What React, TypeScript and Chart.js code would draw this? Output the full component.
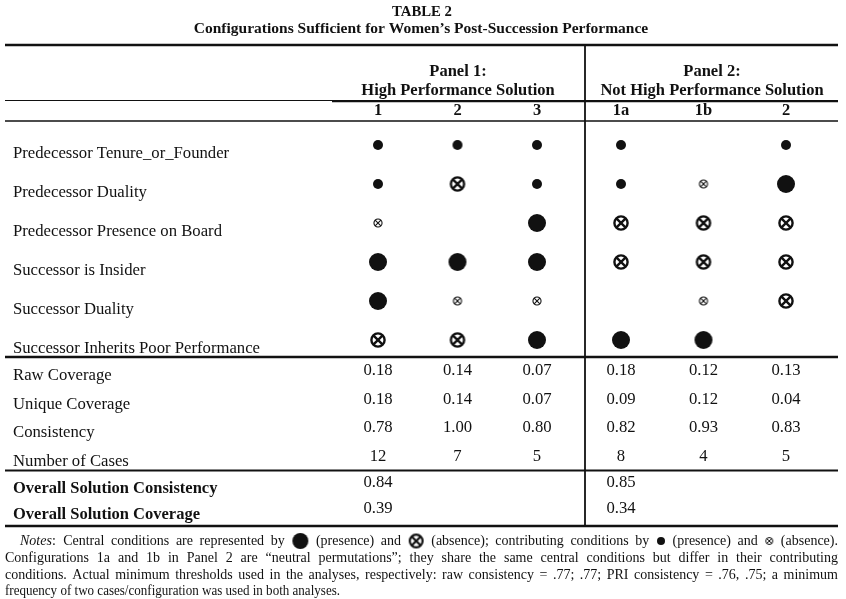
import React, { useEffect, useRef } from 'react';
import { Chart, registerables } from 'chart.js';

Chart.register(...registerables);

// ---------------- data ----------------
const tableNumber = 'TABLE 2';
const tableTitle = 'Configurations Sufficient for Women\u2019s Post-Succession Performance';
const panelTitles = ['Panel 1:', 'Panel 2:'];
const panelSubtitles = ['High Performance Solution', 'Not High Performance Solution'];
const panel1Columns = ['1', '2', '3'];
const panel2Columns = ['1a', '1b', '2'];
const conditions = [
  'Predecessor Tenure_or_Founder',
  'Predecessor Duality',
  'Predecessor Presence on Board',
  'Successor is Insider',
  'Successor Duality',
  'Successor Inherits Poor Performance',
];
// P = central presence, A = central absence, p = contributing presence, a = contributing absence, '' = blank
const tenureMarks = ['p', 'p', 'p', 'p', '', 'p'];
const predecessorDualityMarks = ['p', 'A', 'p', 'p', 'a', 'P'];
const boardPresenceMarks = ['a', '', 'P', 'A', 'A', 'A'];
const insiderMarks = ['P', 'P', 'P', 'A', 'A', 'A'];
const successorDualityMarks = ['P', 'a', 'a', '', 'a', 'A'];
const poorPerformanceMarks = ['A', 'A', 'P', 'P', 'P', ''];
const statLabels = ['Raw Coverage', 'Unique Coverage', 'Consistency', 'Number of Cases'];
const rawCoverage = [0.18, 0.14, 0.07, 0.18, 0.12, 0.13];
const uniqueCoverage = [0.18, 0.14, 0.07, 0.09, 0.12, 0.04];
const consistency = [0.78, 1.0, 0.8, 0.82, 0.93, 0.83];
const numberOfCases = [12, 7, 5, 8, 4, 5];
const overallLabels = ['Overall Solution Consistency', 'Overall Solution Coverage'];
const overallConsistency = [0.84, 0.85];
const overallCoverage = [0.39, 0.34];
const notesLine1 = '*Notes: Central conditions are represented by {P} (presence) and {A} (absence); contributing conditions by {p} (presence) and {a} (absence).';
const notesLine2 = 'Configurations 1a and 1b in Panel 2 are \u201Cneutral permutations\u201D; they share the same central conditions but differ in their contributing';
const notesLine3 = 'conditions. Actual minimum thresholds used in the analyses, respectively: raw consistency = .77; .77; PRI consistency = .76, .75; a minimum';
const notesLine4 = 'frequency of two cases/configuration was used in both analyses.';

// ---------------- layout ----------------
const W = 846;
const H = 599;
const INK = '#111111';
const LEFT = 5;
const RIGHT = 838;
const DIVIDER_X = 585;
const P1_X0 = 378, P1_DX = 79.5;
const P2_X0 = 621, P2_DX = 82.5;
const MARK_Y0 = 145, MARK_DY = 39;
const STAT_Y0 = 371, STAT_DY = 28.5;
const OVR_Y0 = 483, OVR_DY = 26;
const SERIF = '"Liberation Serif", "Times New Roman", serif';

function range(p0: number, dp: number, size: number) {
  const min = -p0 / dp;
  return { min, max: min + size / dp };
}

function makeSymbol(kind: string, r: number, lw: number) {
  const c = document.createElement('canvas');
  const size = Math.ceil(2 * r + 2);
  c.width = size;
  c.height = size;
  const g = c.getContext('2d')!;
  const cx = size / 2;
  g.fillStyle = INK;
  g.strokeStyle = INK;
  if (kind === 'filled') {
    g.beginPath();
    g.arc(cx, cx, r, 0, Math.PI * 2);
    g.fill();
  } else {
    const rr = r - lw / 2;
    g.lineWidth = lw;
    g.beginPath();
    g.arc(cx, cx, rr, 0, Math.PI * 2);
    g.stroke();
    const d = rr * Math.SQRT1_2;
    g.beginPath();
    g.moveTo(cx - d, cx - d);
    g.lineTo(cx + d, cx + d);
    g.moveTo(cx + d, cx - d);
    g.lineTo(cx - d, cx + d);
    g.stroke();
  }
  return c;
}

export default function App() {
  const ref = useRef<HTMLCanvasElement>(null);

  useEffect(() => {
    const canvas = ref.current;
    if (!canvas) return;

    const symbols: Record<string, HTMLCanvasElement> = {
      P: makeSymbol('filled', 9, 0),
      p: makeSymbol('filled', 5, 0),
      A: makeSymbol('cross', 7.8, 2.4),
      a: makeSymbol('cross', 4.6, 1.1),
    };
    const noteSymbols: Record<string, HTMLCanvasElement> = {
      P: makeSymbol('filled', 8, 0),
      p: makeSymbol('filled', 4, 0),
      A: makeSymbol('cross', 7.5, 2.2),
      a: makeSymbol('cross', 4, 1),
    };
    const radii: Record<string, number> = { P: 9, p: 5, A: 7.8, a: 4.6 };

    const markRows = [tenureMarks, predecessorDualityMarks, boardPresenceMarks, insiderMarks, successorDualityMarks, poorPerformanceMarks];
    const groups: Record<string, { x: number; y: number }[]> = {};
    markRows.forEach((row, r) => {
      row.forEach((code, c) => {
        if (!code) return;
        const panel = c < panel1Columns.length ? 0 : 1;
        const key = panel + code;
        (groups[key] = groups[key] || []).push({ x: panel === 0 ? c : c - panel1Columns.length, y: r });
      });
    });
    const datasets = Object.keys(groups).map((key) => {
      const panel = key[0];
      const code = key.slice(1);
      return {
        label: key,
        data: groups[key],
        xAxisID: panel === '0' ? 'x' : 'x2',
        yAxisID: 'yMarks',
        pointStyle: symbols[code],
        pointRadius: radii[code],
        pointHoverRadius: radii[code],
        showLine: false,
      };
    });

    const allColumns = [...panel1Columns, ...panel2Columns];
    const statRows = [rawCoverage, uniqueCoverage, consistency, numberOfCases];
    const overallRows = [overallConsistency, overallCoverage];

    const tablePlugin = {
      id: 'tableText',
      afterDraw(chart: any) {
        const ctx: CanvasRenderingContext2D = chart.ctx;
        const sx = chart.scales.x;
        const sx2 = chart.scales.x2;
        const yM = chart.scales.yMarks;
        const yS = chart.scales.yStats;
        const yO = chart.scales.yOverall;
        const colX = (j: number) => (j < panel1Columns.length ? sx.getPixelForValue(j) : sx2.getPixelForValue(j - panel1Columns.length));

        ctx.save();
        ctx.fillStyle = INK;
        ctx.strokeStyle = INK;
        ctx.textBaseline = 'middle';

        const text = (s: string, x: number, y: number, font: string, align: CanvasTextAlign, maxW?: number) => {
          ctx.font = font;
          ctx.textAlign = align;
          if (maxW) ctx.fillText(s, x, y, maxW);
          else ctx.fillText(s, x, y);
        };
        const hline = (y: number, x0: number, x1: number, lw: number) => {
          ctx.lineWidth = lw;
          ctx.beginPath();
          ctx.moveTo(x0, y);
          ctx.lineTo(x1, y);
          ctx.stroke();
        };

        // titles
        text(tableNumber, 422, 12, `bold 15.5px ${SERIF}`, 'center', 60);
        text(tableTitle, 421, 29, `bold 15.5px ${SERIF}`, 'center', 467);

        // rules
        hline(45, LEFT, RIGHT, 2.6);
        hline(100.5, LEFT, RIGHT, 1.2);
        hline(101.5, 332, RIGHT, 1.4);
        hline(121, LEFT, RIGHT, 1.3);
        hline(357, LEFT, RIGHT, 2.6);
        hline(470.5, LEFT, RIGHT, 1.8);
        hline(526, LEFT, RIGHT, 2.6);
        ctx.lineWidth = 1.8;
        ctx.beginPath();
        ctx.moveTo(DIVIDER_X, 44);
        ctx.lineTo(DIVIDER_X, 527);
        ctx.stroke();

        // panel headers
        text(panelTitles[0], 458, 72, `bold 16.5px ${SERIF}`, 'center');
        text(panelTitles[1], 712, 72, `bold 16.5px ${SERIF}`, 'center');
        text(panelSubtitles[0], 458, 91, `bold 16.5px ${SERIF}`, 'center', 194);
        text(panelSubtitles[1], 712, 91, `bold 16.5px ${SERIF}`, 'center', 225);
        allColumns.forEach((c, j) => text(c, colX(j), 111, `bold 16.5px ${SERIF}`, 'center'));

        // condition labels
        conditions.forEach((c, i) => text(c, 13, yM.getPixelForValue(i) + 8.5, `16.7px ${SERIF}`, 'left'));

        // stats
        statLabels.forEach((l, i) => {
          const y = yS.getPixelForValue(i);
          text(l, 13, y + 5, `16.7px ${SERIF}`, 'left');
          statRows[i].forEach((v, j) => {
            const s = i === 3 ? String(v) : v.toFixed(2);
            text(s, colX(j), y, `16.7px ${SERIF}`, 'center');
          });
        });
        overallLabels.forEach((l, i) => {
          const y = yO.getPixelForValue(i);
          text(l, 13, y + 6, `bold 16.5px ${SERIF}`, 'left');
          overallRows[i].forEach((v, k) => text(v.toFixed(2), colX(k * panel1Columns.length), y, `16.7px ${SERIF}`, 'center'));
        });

        // notes
        const noteFont = `14px ${SERIF}`;
        const drawLine = (line: string, x0: number, x1: number, y: number, justify: boolean) => {
          const tokens = line.split(' ');
          const widths = tokens.map((t) => {
            const m = t.match(/^\{(.)\}$/);
            if (m) return noteSymbols[m[1]].width;
            ctx.font = t.startsWith('*') ? `italic ${noteFont}` : noteFont;
            return ctx.measureText(t.replace(/^\*/, '')).width;
          });
          ctx.font = noteFont;
          const spaceW = ctx.measureText(' ').width;
          const total = widths.reduce((a, b) => a + b, 0);
          const gaps = tokens.length - 1;
          const avail = x1 - x0;
          let gap = spaceW;
          let scale = 1;
          if (justify) {
            gap = (avail - total) / gaps;
            if (gap < spaceW * 0.7) {
              gap = spaceW * 0.7;
              scale = avail / (total + gap * gaps);
            }
          } else if (total + gaps * spaceW > avail) {
            scale = avail / (total + gaps * spaceW);
          }
          ctx.save();
          ctx.translate(x0, y);
          ctx.scale(scale, 1);
          ctx.textAlign = 'left';
          let cx = 0;
          tokens.forEach((t, i) => {
            const m = t.match(/^\{(.)\}$/);
            if (m) {
              const img = noteSymbols[m[1]];
              ctx.drawImage(img, cx, -img.height / 2);
            } else if (t.startsWith('*')) {
              const word = t.slice(1);
              const head = word.replace(/:$/, '');
              ctx.font = `italic ${noteFont}`;
              ctx.fillText(head, cx, 0);
              const hw = ctx.measureText(head).width;
              ctx.font = noteFont;
              if (word.endsWith(':')) ctx.fillText(':', cx + hw, 0);
            } else {
              ctx.font = noteFont;
              ctx.fillText(t, cx, 0);
            }
            cx += widths[i] + gap;
          });
          ctx.restore();
        };
        drawLine(notesLine1, 20, RIGHT, 541, true);
        drawLine(notesLine2, LEFT, RIGHT, 558, true);
        drawLine(notesLine3, LEFT, RIGHT, 575, true);
        drawLine(notesLine4, LEFT, 340, 591, false);

        ctx.restore();
      },
    };

    const xr1 = range(P1_X0, P1_DX, W);
    const xr2 = range(P2_X0, P2_DX, W);
    const yr1 = range(MARK_Y0, MARK_DY, H);
    const yr2 = range(STAT_Y0, STAT_DY, H);
    const yr3 = range(OVR_Y0, OVR_DY, H);

    const chart = new Chart(canvas, {
      type: 'scatter',
      data: { datasets: datasets as any },
      options: {
        responsive: false,
        maintainAspectRatio: false,
        animation: false,
        events: [],
        layout: { padding: 0, autoPadding: false },
        plugins: { legend: { display: false }, tooltip: { enabled: false }, title: { display: false } },
        scales: {
          x: { type: 'linear', display: false, min: xr1.min, max: xr1.max, bounds: 'data' },
          x2: { type: 'linear', display: false, min: xr2.min, max: xr2.max, bounds: 'data' },
          yMarks: { type: 'linear', display: false, reverse: true, min: yr1.min, max: yr1.max, bounds: 'data' },
          yStats: { type: 'linear', display: false, reverse: true, min: yr2.min, max: yr2.max, bounds: 'data' },
          yOverall: { type: 'linear', display: false, reverse: true, min: yr3.min, max: yr3.max, bounds: 'data' },
        },
      } as any,
      plugins: [tablePlugin],
    });
    return () => chart.destroy();
  }, []);

  return (
    <div style={{ position: 'fixed', left: 0, top: 0, width: W, height: H, background: '#ffffff' }}>
      <canvas ref={ref} width={W} height={H} style={{ display: 'block', width: W, height: H }} />
    </div>
  );
}
